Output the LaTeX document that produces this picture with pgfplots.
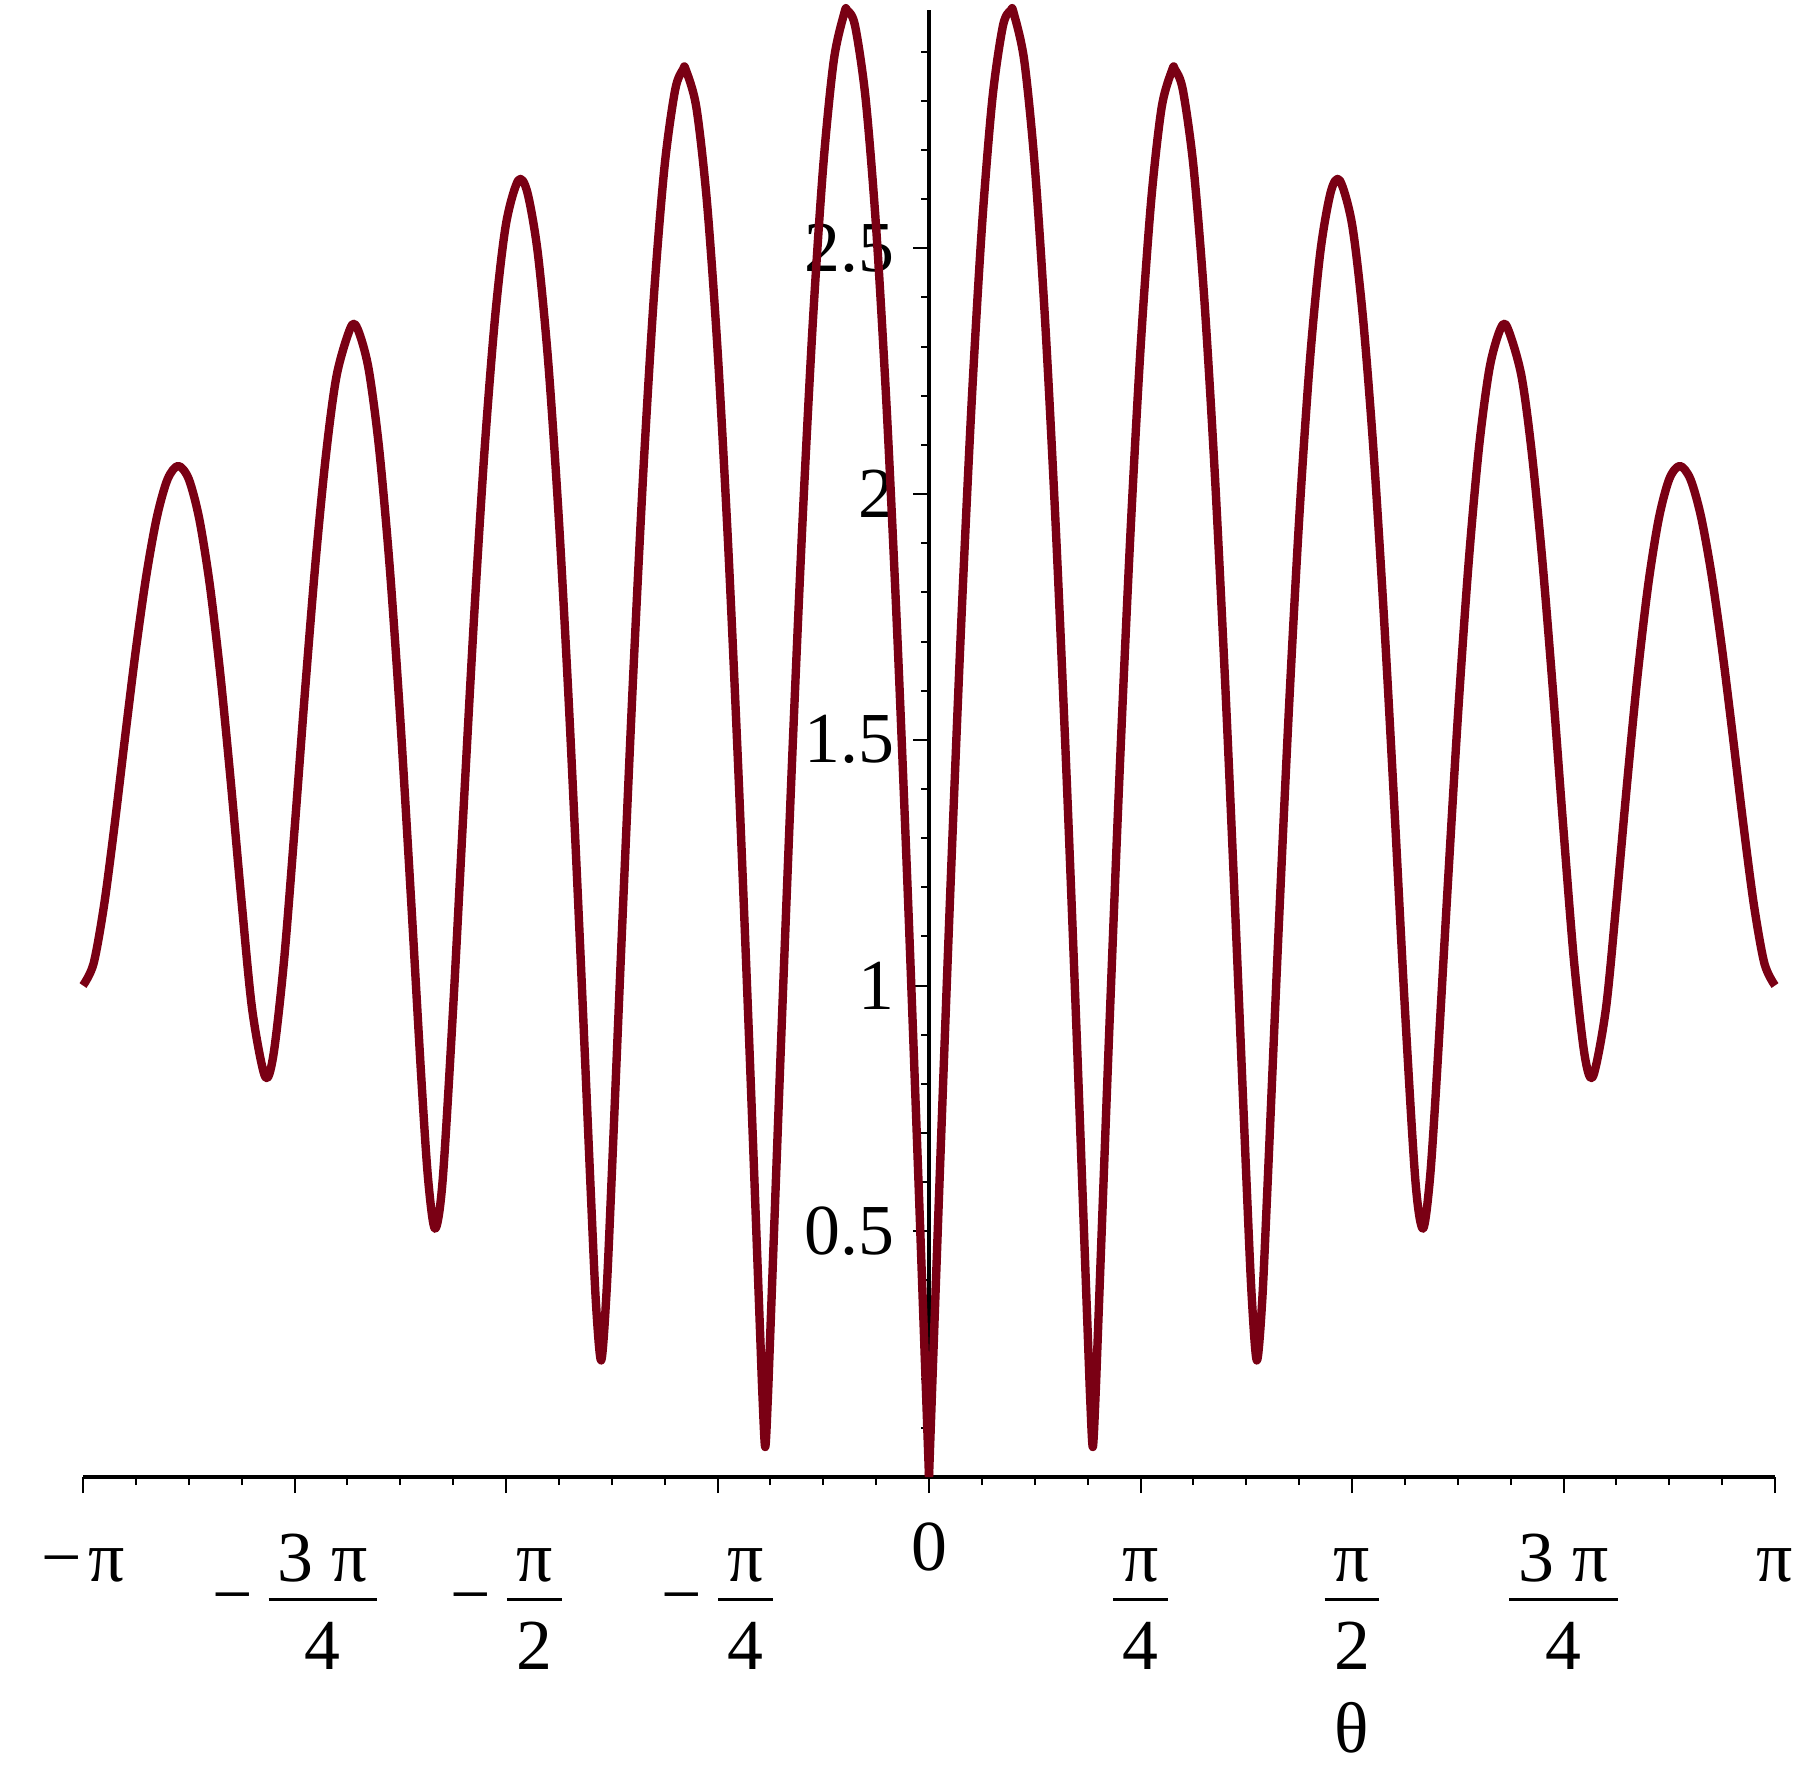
\documentclass[border=0pt]{standalone}
\usepackage{fontspec}
\setmainfont{Liberation Serif}
\usepackage{pgfplots}
\pgfplotsset{compat=1.18}
\definecolor{curve}{RGB}{122,0,20}
\newcommand{\mfrac}[2]{{\renewcommand\arraystretch{0}\setlength{\arrayrulewidth}{0.9bp}\begin{tabular}{@{\hspace{2.3bp}}c@{\hspace{2.3bp}}}\rule[-4bp]{0pt}{16bp}#1\\\hline\rule{0pt}{17bp}#2\end{tabular}}}
\newcommand{\ls}{\rule{0pt}{12bp}}
\begin{document}
\begin{tikzpicture}
\begin{axis}[
  scale only axis, width=423bp, height=366.75bp,
  xmin=-3.14159, xmax=3.14159, ymin=0, ymax=2.985,
  axis lines=middle, axis line style={-, line width=1.1bp, black},
  clip=false,
  tick align=outside,
  hide obscured x ticks=false, hide obscured y ticks=false,
  xtick={-3.14159,-2.35619,-1.5708,-0.785398,0,0.785398,1.5708,2.35619,3.14159},
  xticklabels={\ls−\hspace{1.5bp}π, −\hspace{4bp}\mfrac{3 π}{4}, −\hspace{4bp}\mfrac{π}{2}, −\hspace{4bp}\mfrac{π}{4}, \ls\raisebox{2.9bp}{\smash{0}}, \mfrac{π}{4}, \mfrac{π}{2}, \mfrac{3 π}{4}, \ls π},
  minor xtick={-2.94524,-2.74889,-2.55254,-2.15984,-1.96350,-1.76715,-1.37445,-1.17810,-0.98175,-0.58905,-0.39270,-0.19635,0.19635,0.39270,0.58905,0.98175,1.17810,1.37445,1.76715,1.96350,2.15984,2.55254,2.74889,2.94524},
  ytick={0.5,1,1.5,2,2.5}, yticklabels={0.5,1,1.5,2,2.5},
  minor ytick={0.1,0.2,0.3,0.4,0.6,0.7,0.8,0.9,1.1,1.2,1.3,1.4,1.6,1.7,1.8,1.9,2.1,2.2,2.3,2.4,2.6,2.7,2.8,2.9},
  major tick length=4bp, minor tick length=2bp,
  every tick/.style={black, line width=0.5bp},
  every minor tick/.style={black, line width=0.5bp},
  tick label style={font=\fontsize{18}{21.6}\selectfont},
  xticklabel style={anchor=north, inner sep=0pt, yshift=-10bp},
  yticklabel style={anchor=east, inner sep=0pt, xshift=-4.5bp},
  xlabel={θ},
  xlabel style={at={(axis description cs:0.75,0)}, anchor=center, yshift=-62.75bp, font=\fontsize{18}{21.6}\selectfont},
]
\addplot[curve, line width=2.1bp, smooth, line join=round] coordinates {
(-3.14159,1.0000) (-3.10232,1.0447) (-3.06305,1.1645) (-3.02378,1.3289) (-2.98451,1.5092)
(-2.94524,1.6834) (-2.90597,1.8357) (-2.86670,1.9544) (-2.82743,2.0304) (-2.78816,2.0572)
(-2.74889,2.0306) (-2.70962,1.9490) (-2.67035,1.8138) (-2.63108,1.6302) (-2.59181,1.4088)
(-2.55254,1.1696) (-2.51327,0.9511) (-2.4657,0.8152) (-2.43473,0.8579) (-2.39546,1.0481)
(-2.35619,1.3161) (-2.31692,1.6006) (-2.27765,1.8645) (-2.23838,2.0842) (-2.19911,2.2429)
(-2.1468,2.3399) (-2.12058,2.3343) (-2.08131,2.2557) (-2.04204,2.0934) (-2.00277,1.8526)
(-1.96350,1.5433) (-1.92423,1.1834) (-1.88496,0.8090) (-1.8600,0.6060) (-1.8344,0.5053)
(-1.80642,0.6012) (-1.76715,0.9538) (-1.72788,1.3646) (-1.68861,1.7569) (-1.64934,2.0982)
(-1.61007,2.3674) (-1.57080,2.5495) (-1.5255,2.6381) (-1.49226,2.6154) (-1.45299,2.4918)
(-1.41372,2.2667) (-1.37445,1.9479) (-1.33518,1.5479) (-1.29591,1.0845) (-1.25664,0.5878)
(-1.2370,0.3560) (-1.21737,0.2372) (-1.1977,0.3738) (-1.17810,0.6128) (-1.13883,1.1277)
(-1.09956,1.6179) (-1.06029,2.0513) (-1.02102,2.4070) (-0.98175,2.6683) (-0.94248,2.8230)
(-0.9131,2.8643) (-0.90321,2.8635) (-0.86394,2.7868) (-0.82467,2.5950) (-0.78540,2.2952)
(-0.74613,1.8988) (-0.70686,1.4218) (-0.66759,0.8836) (-0.62832,0.3090) (-0.6185,0.1664)
(-0.6083,0.0610) (-0.5988,0.1561) (-0.58905,0.2977) (-0.54978,0.8791) (-0.51051,1.4305)
(-0.47124,1.9262) (-0.43197,2.3446) (-0.39270,2.6682) (-0.35343,2.8830) (-0.31416,2.9795)
(-0.3042,2.9846) (-0.27489,2.9536) (-0.23562,2.8058) (-0.19635,2.5421) (-0.15708,2.1731)
(-0.11781,1.7140) (-0.07854,1.1838) (-0.03927,0.6045) (0,0)
};
\addplot[curve, line width=2.1bp, smooth, line join=round] coordinates {
(0,0) (0.03927,0.6045) (0.07854,1.1838) (0.11781,1.7140) (0.15708,2.1731)
(0.19635,2.5421) (0.23562,2.8058) (0.27489,2.9536) (0.3042,2.9846) (0.31416,2.9795)
(0.35343,2.8830) (0.39270,2.6682) (0.43197,2.3446) (0.47124,1.9262) (0.51051,1.4305)
(0.54978,0.8791) (0.58905,0.2977) (0.5988,0.1561) (0.6083,0.0610) (0.6185,0.1664)
(0.62832,0.3090) (0.66759,0.8836) (0.70686,1.4218) (0.74613,1.8988) (0.78540,2.2952)
(0.82467,2.5950) (0.86394,2.7868) (0.90321,2.8635) (0.9131,2.8643) (0.94248,2.8230)
(0.98175,2.6683) (1.02102,2.4070) (1.06029,2.0513) (1.09956,1.6179) (1.13883,1.1277)
(1.17810,0.6128) (1.1977,0.3738) (1.21737,0.2372) (1.2370,0.3560) (1.25664,0.5878)
(1.29591,1.0845) (1.33518,1.5479) (1.37445,1.9479) (1.41372,2.2667) (1.45299,2.4918)
(1.49226,2.6154) (1.5255,2.6381) (1.57080,2.5495) (1.61007,2.3674) (1.64934,2.0982)
(1.68861,1.7569) (1.72788,1.3646) (1.76715,0.9538) (1.80642,0.6012) (1.8344,0.5053)
(1.8600,0.6060) (1.88496,0.8090) (1.92423,1.1834) (1.96350,1.5433) (2.00277,1.8526)
(2.04204,2.0934) (2.08131,2.2557) (2.12058,2.3343) (2.1468,2.3399) (2.19911,2.2429)
(2.23838,2.0842) (2.27765,1.8645) (2.31692,1.6006) (2.35619,1.3161) (2.39546,1.0481)
(2.43473,0.8579) (2.4657,0.8152) (2.51327,0.9511) (2.55254,1.1696) (2.59181,1.4088)
(2.63108,1.6302) (2.67035,1.8138) (2.70962,1.9490) (2.74889,2.0306) (2.78816,2.0572)
(2.82743,2.0304) (2.86670,1.9544) (2.90597,1.8357) (2.94524,1.6834) (2.98451,1.5092)
(3.02378,1.3289) (3.06305,1.1645) (3.10232,1.0447) (3.14159,1.0000)
};
\coordinate (bl) at (axis cs:-3.14159,0);
\end{axis}
\pgfresetboundingbox
\path[use as bounding box] (bl) ++(-20.75bp,-73.75bp) rectangle ++(453bp,443bp);
\end{tikzpicture}
\end{document}
